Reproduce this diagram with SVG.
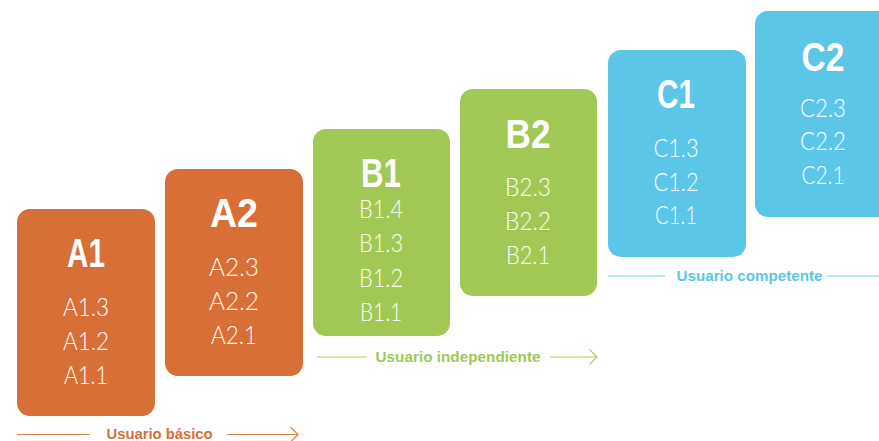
<svg xmlns="http://www.w3.org/2000/svg" width="879" height="441" viewBox="0 0 879 441">
<style>
.box{stroke:none}
.o{fill:#D86F36}
.g{fill:#A1C854}
.b{fill:#5BC6E8}
.t{font-family:"Liberation Sans",Arial,sans-serif;font-weight:700;font-size:40px;fill:#fff;text-anchor:middle}
.i{font-family:"Lato","Liberation Sans",Arial,sans-serif;font-weight:300;font-size:25px;fill:#fff;text-anchor:middle}
.l{font-family:"Liberation Sans",Arial,sans-serif;font-weight:700;font-size:15.5px;text-anchor:middle}
.ln{fill:none;stroke-width:1.2}
.so{stroke:#DE8450}
.sg{stroke:#ADCF68}
.sb{stroke:#6FCCEB}
</style>
<rect width="879" height="441" fill="#fff"/>
<g id="A1">
<rect class="box o" x="17" y="209" width="138" height="207" rx="13"/>
<text class="t" x="86" y="267" textLength="38" lengthAdjust="spacingAndGlyphs">A1</text>
<text class="i" x="86" y="316" textLength="46" lengthAdjust="spacingAndGlyphs">A1.3</text>
<text class="i" x="86" y="350" textLength="46" lengthAdjust="spacingAndGlyphs">A1.2</text>
<text class="i" x="86" y="384" textLength="44" lengthAdjust="spacingAndGlyphs">A1.1</text>
</g>
<g id="A2">
<rect class="box o" x="165" y="169" width="138" height="207" rx="13"/>
<text class="t" x="234" y="227" textLength="48" lengthAdjust="spacingAndGlyphs">A2</text>
<text class="i" x="234" y="276" textLength="50" lengthAdjust="spacingAndGlyphs">A2.3</text>
<text class="i" x="234" y="310" textLength="50" lengthAdjust="spacingAndGlyphs">A2.2</text>
<text class="i" x="234" y="344" textLength="46" lengthAdjust="spacingAndGlyphs">A2.1</text>
</g>
<g id="B1">
<rect class="box g" x="313" y="129" width="137" height="207" rx="13"/>
<text class="t" x="381" y="187" textLength="40" lengthAdjust="spacingAndGlyphs">B1</text>
<text class="i" x="381" y="218" textLength="44" lengthAdjust="spacingAndGlyphs">B1.4</text>
<text class="i" x="381" y="252" textLength="44" lengthAdjust="spacingAndGlyphs">B1.3</text>
<text class="i" x="381" y="287" textLength="44" lengthAdjust="spacingAndGlyphs">B1.2</text>
<text class="i" x="381" y="321" textLength="42" lengthAdjust="spacingAndGlyphs">B1.1</text>
</g>
<g id="B2">
<rect class="box g" x="460" y="89" width="137" height="207" rx="13"/>
<text class="t" x="528" y="148" textLength="45" lengthAdjust="spacingAndGlyphs">B2</text>
<text class="i" x="528" y="196" textLength="46" lengthAdjust="spacingAndGlyphs">B2.3</text>
<text class="i" x="528" y="230" textLength="46" lengthAdjust="spacingAndGlyphs">B2.2</text>
<text class="i" x="528" y="264" textLength="44" lengthAdjust="spacingAndGlyphs">B2.1</text>
</g>
<g id="C1">
<rect class="box b" x="608" y="50" width="138" height="207" rx="13"/>
<text class="t" x="676" y="108" textLength="38" lengthAdjust="spacingAndGlyphs">C1</text>
<text class="i" x="676" y="157" textLength="45" lengthAdjust="spacingAndGlyphs">C1.3</text>
<text class="i" x="676" y="191" textLength="45" lengthAdjust="spacingAndGlyphs">C1.2</text>
<text class="i" x="676" y="224" textLength="42" lengthAdjust="spacingAndGlyphs">C1.1</text>
</g>
<g id="C2">
<rect class="box b" x="755" y="11" width="140" height="206" rx="13"/>
<text class="t" x="823" y="71" textLength="43" lengthAdjust="spacingAndGlyphs">C2</text>
<text class="i" x="823" y="117" textLength="46" lengthAdjust="spacingAndGlyphs">C2.3</text>
<text class="i" x="823" y="150" textLength="46" lengthAdjust="spacingAndGlyphs">C2.2</text>
<text class="i" x="823" y="184" textLength="43" lengthAdjust="spacingAndGlyphs">C2.1</text>
</g>
<g id="connectors">
<line class="ln so" x1="17" y1="434.5" x2="90" y2="434.5"/>
<line class="ln so" x1="227" y1="434.5" x2="298" y2="434.5"/>
<path class="ln so" d="M290.5,427 L298,434.5 L290.5,442"/>
<line class="ln sg" x1="317" y1="357" x2="367" y2="357"/>
<line class="ln sg" x1="550" y1="357" x2="597" y2="357"/>
<path class="ln sg" d="M589.5,349.5 L597,357 L589.5,364.5"/>
<line class="ln sb" x1="608" y1="276" x2="665" y2="276"/>
<line class="ln sb" x1="827" y1="276" x2="879" y2="276"/>
</g>
<g id="labels">
<text class="l" x="159.5" y="439" fill="#D86F36" textLength="106" lengthAdjust="spacingAndGlyphs">Usuario básico</text>
<text class="l" x="458" y="362" fill="#A1C854" textLength="165" lengthAdjust="spacingAndGlyphs">Usuario independiente</text>
<text class="l" x="749.5" y="281" fill="#5BC6E8" textLength="146" lengthAdjust="spacingAndGlyphs">Usuario competente</text>
</g>
</svg>
